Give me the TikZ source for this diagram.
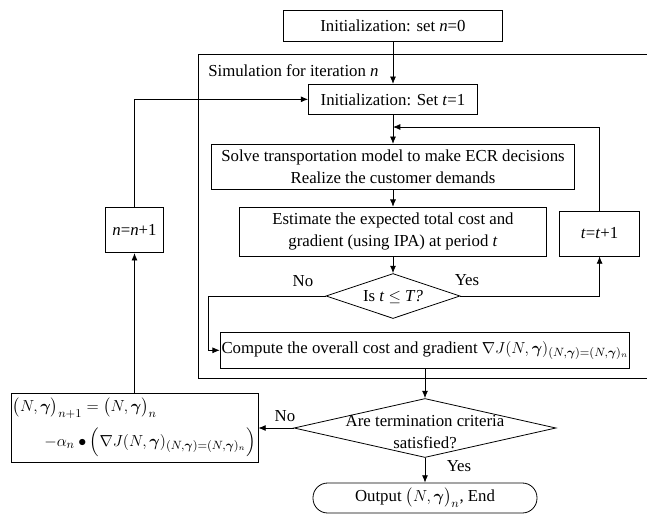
\documentclass[tikz,border=0pt]{standalone}
\usepackage{amsmath}
\usepackage{fontspec}
\setmainfont{Liberation Serif}
\usetikzlibrary{shapes.geometric,arrows.meta}
\begin{document}
\begin{tikzpicture}[x=0.75pt,y=-0.75pt,
  every node/.style={font=\fontsize{12.6}{16.4}\selectfont},
  sz/.style 2 args={minimum width=#1*0.75pt, minimum height=#2*0.75pt},
  box/.style={draw, line width=0.6pt, inner sep=1pt, align=center},
  dia/.style={draw, diamond, line width=0.6pt, inner sep=0pt},
  arr/.style={-{Latex[length=5.5pt,width=4.5pt]}, line width=0.6pt},
  ln/.style={line width=0.6pt},
  lbl/.style={inner sep=0pt, align=center}]
\useasboundingbox (0,0) rectangle (647,515);
% frame of the simulation
\draw[ln] (648,54) -- (198.4,54) -- (198.4,378) -- (648,378);
% nodes
\node[box, sz={219}{31}] (initn) at (393,26) {Initialization: set \textit{n}=0};
\node[lbl, anchor=west] (simlab) at (208,71) {Simulation for iteration \textit{n}};
\node[box, sz={169}{30}] (initt) at (393,99.3) {Initialization: Set \textit{t}=1};
\node[box, sz={363}{45}] (solve) at (393,166.8) {Solve transportation model to make ECR decisions\\Realize the customer demands};
\node[box, sz={307}{49}] (est) at (393,231.7) {Estimate the expected total cost and\\gradient (using IPA) at period \textit{t}};
\node[box, sz={80}{45}] (tt) at (599.6,233.5) {\textit{t}=\textit{t}+1};
\node[dia, sz={134}{45}] (d1) at (393,296) {};
\node[lbl] (d1t) at (393,297) {Is \textit{t} $\leq$ \textit{T?}};
\node[box, sz={395}{36}] (comp) at (425,350.3) {Compute the overall cost and gradient $\nabla J(N,\boldsymbol{\gamma})_{(N,\boldsymbol{\gamma})=(N,\boldsymbol{\gamma})_n}$};
\node[dia, sz={262}{59}] (d2) at (425,428) {};
\node[lbl] (d2t) at (425,432) {Are termination criteria\\satisfied?};
\node[box, sz={247}{69}] (upd) at (134.5,428) {};
\node[lbl, anchor=west] (upd1) at (12.5,408) {$\big(N,\boldsymbol{\gamma}\big)_{n+1}=\big(N,\boldsymbol{\gamma}\big)_{n}$};
\node[lbl, anchor=east] (upd2) at (256,442) {$-\alpha_n\bullet\Big(\nabla J(N,\boldsymbol{\gamma})_{(N,\boldsymbol{\gamma})=(N,\boldsymbol{\gamma})_n}\Big)$};
\node[box, sz={58}{45}] (nn) at (134.5,230.2) {\textit{n}=\textit{n}+1};
\node[box, rounded corners=11pt, sz={224}{30}] (out) at (425,498) {Output $\big(N,\boldsymbol{\gamma}\big)_n$, End};
% labels
\node[lbl] (yes1) at (467,280) {Yes};
\node[lbl] (no1) at (303,281) {No};
\node[lbl] (no2) at (285,416) {No};
\node[lbl] (yes2) at (459,466) {Yes};
% connectors
\coordinate (j1) at (393,127);
\coordinate (nocorner) at (208.3,296);
\draw[arr] (initn) -- (initt);
\draw[arr] (initt) -- (solve);
\draw[arr] (solve) -- (est);
\draw[arr] (est) -- (d1);
\draw[arr] (d1.east) -| (tt.south);
\draw[arr] (tt.north) |- (j1);
\draw[arr] (d1.west) -- (nocorner) |- (comp.west);
\draw[arr] (comp) -- (d2);
\draw[arr] (d2.west) -- (upd.east);
\draw[arr] (d2.south) -- (out.north);
\draw[arr] (upd) -- (nn);
\draw[arr] (nn.north) |- (initt.west);
\end{tikzpicture}
\end{document}
